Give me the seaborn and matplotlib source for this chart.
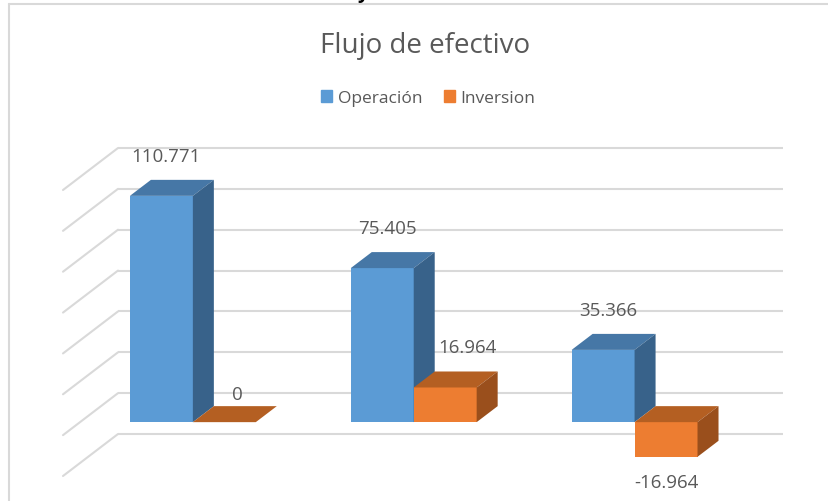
import matplotlib
matplotlib.use("Agg")
import matplotlib.pyplot as plt
import matplotlib.patches as mpatches
import matplotlib.transforms as mtransforms
from matplotlib.lines import Line2D
import pandas as pd
import seaborn as sns

# data
categories = ["Periodo 1", "Periodo 2", "Periodo 3"]
series = ["Operación", "Inversion"]
operacion = [110.771, 75.405, 35.366]
inversion = [0, 16.964, -16.964]
y_ticks = [-20, 0, 20, 40, 60, 80, 100, 120]

front_colors = ["#5B9BD5", "#ED7D31"]
top_colors = ["#4677A6", "#B45F22"]
side_colors = ["#38628A", "#9A4F1C"]
grid_color = "#D9D9D9"
text_color = "#595959"

W, H, DPI = 829, 502, 100
DEPTH = (21, 16)     # depth of a bar, in pixels
WALL = (38, 29)      # back wall, seen from the bar fronts
FLOOR = (-17, -13)   # front edge of the side wall

df = pd.DataFrame({
    "categoria": categories * 2,
    "serie": [series[0]] * len(categories) + [series[1]] * len(categories),
    "valor": operacion + inversion,
})

sns.set_theme(style="white")
plt.rcParams["font.family"] = ["Open Sans", "DejaVu Sans"]

fig = plt.figure(figsize=(W / DPI, H / DPI), dpi=DPI)
ax = fig.add_axes([80 / W, 1 - 464 / H, 665 / W, 286 / H])
sns.barplot(data=df, x="categoria", y="valor", hue="serie", palette=front_colors,
            saturation=1, width=0.57, legend=False, linewidth=0, ax=ax)
ax.set_xlim(-0.511, 2.5)
ax.set_ylim(-20, 120)
ax.axis("off")

ident = mtransforms.IdentityTransform()

# back wall gridlines + side wall lines
wall_tr = ax.get_yaxis_transform() + mtransforms.ScaledTranslation(
    WALL[0] / DPI, WALL[1] / DPI, fig.dpi_scale_trans)
for v in y_ticks:
    ax.plot([0, 1], [v, v], transform=wall_tr, color=grid_color, lw=1.5,
            zorder=0, clip_on=False, solid_capstyle="butt")
    x, y = ax.get_yaxis_transform().transform((0, v))
    ax.add_line(Line2D([x + FLOOR[0], x + WALL[0]], [y + FLOOR[1], y + WALL[1]],
                       transform=ident, color=grid_color, lw=1.5, zorder=0, clip_on=False))

# 3d faces + labels
values = [operacion, inversion]
label_dx = [5, 22]
for i, cont in enumerate(ax.containers):
    for p, v in zip(cont.patches, values[i]):
        p.set_zorder(2 + i)
        x0, w = p.get_x(), p.get_width()
        y_top = max(p.get_y(), p.get_y() + p.get_height())
        y_bot = min(p.get_y(), p.get_y() + p.get_height())
        L, T = ax.transData.transform((x0, y_top))
        R, B = ax.transData.transform((x0 + w, y_bot))
        dx, dy = DEPTH
        top = mpatches.Polygon([(L, T), (R, T), (R + dx, T + dy), (L + dx, T + dy)],
                               closed=True, transform=ident, facecolor=top_colors[i],
                               edgecolor="none", zorder=2.1 + i, clip_on=False)
        side = mpatches.Polygon([(R, T), (R, B), (R + dx, B + dy), (R + dx, T + dy)],
                                closed=True, transform=ident, facecolor=side_colors[i],
                                edgecolor="none", zorder=2.1 + i, clip_on=False)
        ax.add_patch(top)
        ax.add_patch(side)

        txt = "0" if v == 0 else f"{v:.3f}"
        if v > 0:
            off = (label_dx[i], 40)
        elif v == 0:
            off = (13, 28)
        else:
            off = (0, -25)
        ax.annotate(txt, xy=(x0 + w / 2, v), xytext=off, textcoords="offset pixels",
                    ha="center", va="center", fontsize=13.5, color=text_color,
                    zorder=5, annotation_clip=False)

ax.set_xlim(-0.511, 2.5)
ax.set_ylim(-20, 120)

# title and legend
fig.text(425 / W, 1 - 53 / H, "Flujo de efectivo", ha="center", va="baseline",
         fontsize=20, color=text_color)
handles = [mpatches.Patch(color=c, label=s) for c, s in zip(front_colors, series)]
fig.legend(handles=handles, loc="center", bbox_to_anchor=(428.5 / W, 1 - 99 / H),
           ncol=2, frameon=False, fontsize=12.5, handlelength=0.63, handleheight=0.63,
           handletextpad=0.35, columnspacing=1.2, labelcolor=text_color)

# chart frame and the cut-off text above it
fig.add_artist(Line2D([9.5 / W, 9.5 / W], [0, 1 - 5 / H], color=grid_color, lw=1.5))
fig.add_artist(Line2D([9.5 / W, 1], [1 - 5 / H, 1 - 5 / H], color=grid_color, lw=1.5))
fig.text(363 / W, 1 + 2 / H, "y", ha="center", va="baseline", fontsize=14,
         fontweight="bold", color="black")

fig.savefig("out.png", dpi=DPI)
